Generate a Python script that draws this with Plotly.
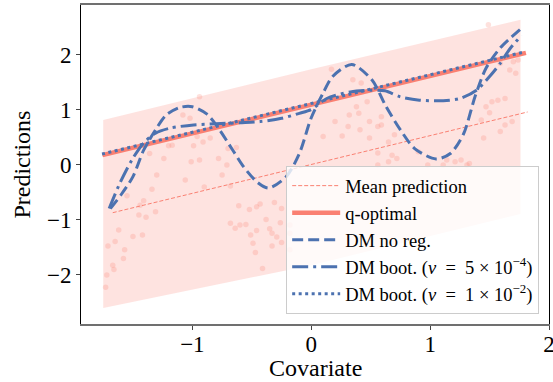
import plotly.graph_objects as go

# ---------------- data ----------------
band_x = [-1.75, 0.0, 1.76]
band_upper = [0.81, 1.73, 2.63]
band_lower = [-2.61, -1.83, -0.90]

dots_x = [-1.08, -1.02, -0.96, -0.91, -0.85, -1.20, -1.17, -0.99, -1.36, -1.24, -1.01, -0.94, -0.78, -0.71,
          -0.70, -0.63, -1.30, -1.06, -1.34, -0.90, -0.68, -1.55, -1.41, -1.44, -1.45, -1.39, -1.31, -1.62,
          -1.50, -1.42, -1.65, -1.71, -1.57, -1.58, -1.67, -1.66, -1.72, -1.73, -0.64, -0.60, -0.55, -0.61,
          -0.52, -0.46, -0.43, -0.38, -0.35, -0.46, -0.51, -0.33, -0.29, -0.49, -0.33, -0.25, -0.47, -0.41,
          -0.26, -0.25, -0.75, -0.31, -0.18, -0.18, -0.18, -0.68, -0.94,
          0.17, 0.35, 0.42, 0.38, 0.47, 0.32, 0.20, 0.31, 0.41, 0.49, 0.10, 0.26, 0.49, 0.59, 0.68, 0.72,
          0.56, 0.56, 0.65, 0.98, 1.14, 1.21, 1.26, 1.31, 1.33, 0.90, 1.47, 1.50, 1.52, 1.57, 1.63, 1.43,
          1.45, 1.63, 1.69, 1.72, 1.67, 1.70, 1.74, 1.59, 1.49, 1.11, 1.59, 0.65, 0.70, 0.56, 0.59, 0.40]
dots_y = [0.90, 0.84, 0.51, 0.41, 0.48, 0.34, 0.35, 0.34, 0.20, 0.11, 0.05, 0.08, 0.11, -0.01,
          0.29, 0.31, -0.19, -0.28, -0.45, -0.41, -0.39, -0.57, -0.66, -0.74, -0.92, -0.96, -0.86, -1.19,
          -1.31, -1.28, -1.40, -1.48, -1.55, -1.71, -1.83, -1.91, -2.01, -2.23, -1.16, -1.10, -1.09, -0.75,
          -0.82, -0.77, -0.72, -1.00, -1.17, -1.20, -1.28, -1.25, -1.32, -1.43, -1.48, -1.42, -1.60, -1.89,
          -1.06, -0.80, -0.19, -0.69, -1.10, -1.25, -1.55, -1.07, 1.23,
          1.73, 1.54, 1.48, 1.05, 1.14, 0.90, 0.78, 0.69, 0.63, 0.78, 0.51, 0.52, 0.48, 0.72, 0.17, 0.11,
          0.21, -0.01, 0.05, -0.01, 0.08, 0.05, 0.08, -0.01, 0.02, 0.23, 1.05, 0.94, 1.14, 1.17, 1.20, 0.81,
          0.48, 0.72, 0.78, 1.66, 1.72, 1.87, 1.90, 0.60, 2.54, -0.01, 1.84, 0.41, 0.54, 0.69, 0.87, 0.93]

mean_x = [-1.67, 1.82]
mean_y = [-0.876, 0.955]

qopt_x = [-1.757, 1.806]
qopt_y = [0.17, 2.03]

noreg_x = [-1.69, -1.60, -1.50, -1.41, -1.31, -1.22, -1.10, -1.00, -0.88, -0.80, -0.66, -0.57, -0.45,
           -0.36, -0.21, -0.10, 0.00, 0.10, 0.18, 0.34, 0.51, 0.63, 0.75, 0.87, 1.05, 1.17, 1.28, 1.38,
           1.47, 1.59, 1.77]
noreg_y = [-0.80, -0.55, -0.22, 0.26, 0.63, 0.90, 1.04, 1.05, 0.92, 0.72, 0.26, -0.04, -0.33,
           -0.43, -0.22, 0.20, 0.85, 1.30, 1.60, 1.82, 1.54, 1.05, 0.63, 0.29, 0.10, 0.20, 0.55, 1.25,
           1.75, 2.12, 2.48]

boot1_x = [-1.70, -1.61, -1.51, -1.41, -1.31, -1.19, -0.99, -0.80, -0.60, -0.43, -0.25, -0.10, 0.00,
           0.13, 0.33, 0.50, 0.62, 0.75, 0.91, 1.11, 1.25, 1.39, 1.50, 1.59, 1.67, 1.77]
boot1_y = [-0.80, -0.34, 0.08, 0.39, 0.57, 0.66, 0.72, 0.74, 0.76, 0.78, 0.84, 0.93, 1.00,
           1.20, 1.32, 1.35, 1.34, 1.23, 1.17, 1.16, 1.20, 1.35, 1.60, 1.84, 2.10, 2.35]

boot2_x = [-1.76, 1.80]
boot2_y = [0.19, 2.05]

x_ticks = [-1, 0, 1, 2]
y_ticks = [-2, -1, 0, 1, 2]

x_title = "Covariate"
y_title = "Predictions"

SALMON = "#FA8072"
BLUE = "#4C72B0"
FONT = "Liberation Serif"

fig = go.Figure()

# band
fig.add_trace(go.Scatter(x=band_x, y=band_lower, mode="lines", line=dict(width=0),
                         showlegend=False, hoverinfo="skip"))
fig.add_trace(go.Scatter(x=band_x, y=band_upper, mode="lines", line=dict(width=0),
                         fill="tonexty", fillcolor="rgba(250,128,114,0.22)",
                         showlegend=False, hoverinfo="skip"))
# dots
fig.add_trace(go.Scatter(x=dots_x, y=dots_y, mode="markers",
                         marker=dict(size=5.5, color="rgba(250,128,114,0.24)", line=dict(width=0)),
                         showlegend=False, hoverinfo="skip"))

fig.add_trace(go.Scatter(x=mean_x, y=mean_y, mode="lines", name="Mean prediction", legendgroup="a",
                         line=dict(color=SALMON, width=1, dash="4px,2px")))
fig.add_trace(go.Scatter(x=qopt_x, y=qopt_y, mode="lines", name="q-optimal", legendgroup="b",
                         line=dict(color=SALMON, width=4.5)))
fig.add_trace(go.Scatter(x=noreg_x, y=noreg_y, mode="lines", name="DM no reg.", legendgroup="c",
                         line=dict(color=BLUE, width=3, dash="11px,5px", shape="spline", smoothing=0.8)))
fig.add_trace(go.Scatter(x=boot1_x, y=boot1_y, mode="lines", legendgroup="d",
                         name="DM boot. (<i>ν</i>  =  5 × 10<sup>−4</sup>)",
                         line=dict(color=BLUE, width=3, dash="16px,5px,3px,5px", shape="spline", smoothing=0.8)))
fig.add_trace(go.Scatter(x=boot2_x, y=boot2_y, mode="lines", legendgroup="e",
                         name="DM boot. (<i>ν</i>  =  1 × 10<sup>−2</sup>)",
                         line=dict(color=BLUE, width=3, dash="3px,3.5px")))

fig.add_annotation(text=x_title, xref="paper", yref="paper", x=0.5, y=-0.138,
                   xanchor="center", yanchor="middle", showarrow=False,
                   font=dict(family=FONT, size=24, color="black"))
fig.add_annotation(text=y_title, xref="paper", yref="paper", x=-0.128, y=0.5,
                   xanchor="center", yanchor="middle", showarrow=False, textangle=-90,
                   font=dict(family=FONT, size=24, color="black"))

fig.update_layout(
    width=553, height=382,
    margin=dict(l=81, r=4, t=5, b=58, autoexpand=False),
    plot_bgcolor="white", paper_bgcolor="white",
    font=dict(family=FONT, color="black"),
    showlegend=True,
    legend=dict(x=0.979, y=0.031, xanchor="right", yanchor="bottom",
                bgcolor="rgba(255,255,255,0.8)", bordercolor="#cccccc", borderwidth=1,
                font=dict(family=FONT, size=18.5, color="black"),
                tracegroupgap=0, itemwidth=48),
    xaxis=dict(range=[-1.937, 2.0], tickvals=x_ticks, showgrid=False, zeroline=False,
               showline=True, linecolor="#707070", linewidth=1.5, mirror=True,
               ticks="outside", ticklen=4, tickcolor="#444", tickwidth=1,
               tickfont=dict(family=FONT, size=23), automargin=False, ticklabelstandoff=-5,
               ticklabeloverflow="allow"),
    yaxis=dict(range=[-2.9, 2.9], tickvals=y_ticks, showgrid=False, zeroline=False,
               showline=True, linecolor="black", linewidth=1, mirror=True,
               ticks="outside", ticklen=4, tickcolor="#444", tickwidth=1,
               tickfont=dict(family=FONT, size=23), automargin=False),
)

fig.write_html("out.html", config={"displayModeBar": False})

# remove the default page margin so the figure sits at the window's top-left corner
with open("out.html", "r", encoding="utf-8") as f:
    html = f.read()
html = html.replace("<head>", "<head><style>html,body{margin:0;padding:0;overflow:hidden;}</style>", 1)
with open("out.html", "w", encoding="utf-8") as f:
    f.write(html)
